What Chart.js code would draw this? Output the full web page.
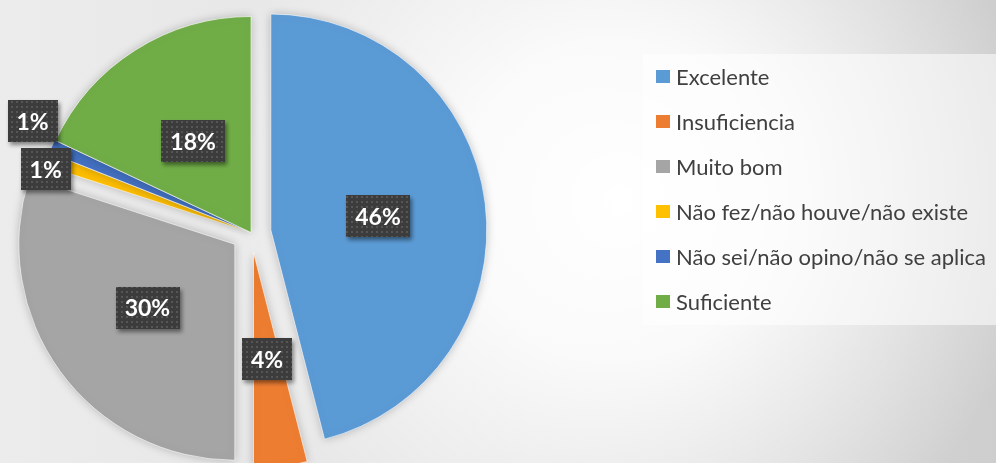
<!DOCTYPE html>
<html>
<head>
<meta charset="utf-8">
<script src="https://cdn.jsdelivr.net/npm/chart.js@4.4.0/dist/chart.umd.min.js"></script>
<style>
    html, body { margin: 0; padding: 0; width: 996px; height: 463px; overflow: hidden; }
    body {
        position: relative;
        font-family: Lato, "Open Sans", sans-serif;
        background:
            radial-gradient(circle at 620px 200px, rgba(255,255,255,1) 0px, rgba(255,255,255,0.85) 160px, rgba(255,255,255,0) 420px),
            linear-gradient(to right, #ececec 0%, #e4e4e4 45%, #d6d6d6 80%, #cecece 100%);
    }
    #pie { position: absolute; left: 0; top: 0; }
    #legend {
        position: absolute; left: 643px; top: 54px; width: 353px; height: 271px;
        background: rgba(255,255,255,0.55);
    }
    .item { position: absolute; left: 13px; height: 26px; display: flex; align-items: center; font-size: 22px; color: #404040; white-space: nowrap; }
    .sw { width: 14px; height: 13px; margin-right: 6px; flex: none; }
</style>
</head>
<body>
<canvas id="pie" width="996" height="463"></canvas>
<div id="legend"></div>
<script>
const labels = ['Excelente', 'Insuficiencia', 'Muito bom', 'Não fez/não houve/não existe', 'Não sei/não opino/não se aplica', 'Suficiente'];
const values = [46, 4, 30, 1, 1, 18];
const colors = ['#5B9BD5', '#ED7D31', '#A5A5A5', '#FFC000', '#4472C4', '#70AD47'];

// how far each slice is pulled out (px)
const explode = [20, 20, 20, 1, 1, 0];
// label placement: fraction of radius, and small angle nudge (deg) for the tiny slices
const labelRadius = [0.5, 0.5, 0.5, 0.99, 1.13, 0.5];
const labelTurn = [0, 0, 0, -2.7, 3.6, 0];

const total = values.reduce((a, b) => a + b, 0);

// dark dotted fill for the data label boxes
const tile = document.createElement('canvas');
tile.width = 5; tile.height = 5;
const tctx = tile.getContext('2d');
tctx.fillStyle = '#3c3c3c';
tctx.fillRect(0, 0, 5, 5);
tctx.fillStyle = '#565656';
tctx.fillRect(1, 1, 2, 2);

const explodePlugin = {
    id: 'explode',
    beforeDatasetDraw(chart, args) {
        const ctx = chart.ctx;
        args.meta.data.forEach((arc, i) => {
            const mid = (arc.startAngle + arc.endAngle) / 2;
            ctx.save();
            ctx.shadowColor = 'rgba(0,0,0,0.22)';
            ctx.shadowBlur = 10;
            ctx.translate(Math.cos(mid) * explode[i], Math.sin(mid) * explode[i]);
            arc.draw(ctx);
            ctx.restore();
        });
        return false;
    }
};

const labelPlugin = {
    id: 'boxLabels',
    afterDraw(chart) {
        const ctx = chart.ctx;
        const pattern = ctx.createPattern(tile, 'repeat');
        chart.getDatasetMeta(0).data.forEach((arc, i) => {
            const mid = (arc.startAngle + arc.endAngle) / 2;
            const ang = mid + labelTurn[i] * Math.PI / 180;
            const r = arc.outerRadius * labelRadius[i];
            const x = arc.x + Math.cos(mid) * explode[i] + Math.cos(ang) * r;
            const y = arc.y + Math.sin(mid) * explode[i] + Math.sin(ang) * r;
            const text = Math.round(values[i] / total * 100) + '%';

            ctx.save();
            ctx.font = 'bold 23px Lato, "Open Sans", sans-serif';
            const w = ctx.measureText(text).width + 18;
            const h = 42;
            ctx.shadowColor = 'rgba(0,0,0,0.45)';
            ctx.shadowBlur = 4;
            ctx.shadowOffsetX = 2;
            ctx.shadowOffsetY = 3;
            ctx.fillStyle = pattern;
            ctx.fillRect(Math.round(x - w / 2), Math.round(y - h / 2), Math.round(w), h);
            ctx.shadowColor = 'transparent';
            ctx.fillStyle = '#ffffff';
            ctx.textAlign = 'center';
            ctx.textBaseline = 'middle';
            ctx.fillText(text, x, y + 1);
            ctx.restore();
        });
    }
};

new Chart(document.getElementById('pie'), {
    type: 'pie',
    data: {
        labels: labels,
        datasets: [{
            data: values,
            backgroundColor: colors,
            borderColor: 'rgba(255,255,255,0.6)',
            borderWidth: 1,
            radius: 216
        }]
    },
    options: {
        responsive: false,
        animation: false,
        layout: { padding: { top: 2, right: 494 } },
        plugins: {
            legend: { display: false },
            tooltip: { enabled: false }
        }
    },
    plugins: [explodePlugin, labelPlugin]
});

// legend box on the right
const legend = document.getElementById('legend');
legend.innerHTML = labels.map((label, i) => `
    <div class="item" style="top:${9 + i * 45}px">
        <span class="sw" style="background:${colors[i]}"></span>${label}
    </div>
`).join('');
</script>
</body>
</html>
